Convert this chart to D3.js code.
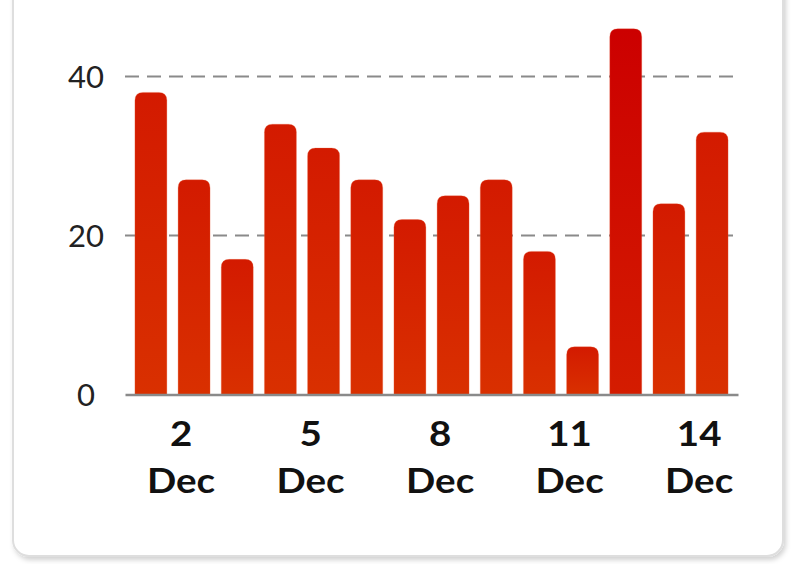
<!DOCTYPE html>
<html>
<head>
<meta charset="utf-8">
<script src="https://cdn.jsdelivr.net/npm/d3@7"></script>
<style>
  html, body { margin: 0; padding: 0; background: #fff; }
  svg { display: block; }
  .yLabel { font-family: Lato, sans-serif; font-size: 31px; fill: #222; }
  .xAxis text { font-family: Lato, sans-serif; font-weight: bold; font-size: 35px; fill: #111; }
</style>
</head>
<body>
<div id="chart"></div>
<script>
// Data
var days = ["1", "2", "3", "4", "5", "6", "7", "8", "9", "10", "11", "12", "13", "14"];
var counts = [38, 27, 17, 34, 31, 27, 22, 25, 27, 18, 6, 46, 24, 33];
var xTicks = ["2", "5", "8", "11", "14"];
var yTicks = [0, 20, 40];
var month = "Dec";

var svgWidth = 800;
var svgHeight = 564;

var svg = d3.select("#chart")
  .append("svg")
  .attr("width", svgWidth)
  .attr("height", svgHeight);

var defs = svg.append("defs");

// card shadow
var shadow = defs.append("filter")
  .attr("id", "cardShadow")
  .attr("x", "-5%").attr("y", "-5%")
  .attr("width", "110%").attr("height", "110%");
shadow.append("feDropShadow")
  .attr("dx", 2).attr("dy", 3)
  .attr("stdDeviation", 2.5)
  .attr("flood-color", "#000")
  .attr("flood-opacity", 0.18);

// bar gradients
var grad = defs.append("linearGradient")
  .attr("id", "barFill")
  .attr("x1", 0).attr("y1", 0).attr("x2", 0).attr("y2", 1);
grad.append("stop").attr("offset", "0%").attr("stop-color", "#d31a00");
grad.append("stop").attr("offset", "100%").attr("stop-color", "#d93000");

var gradMax = defs.append("linearGradient")
  .attr("id", "barFillMax")
  .attr("x1", 0).attr("y1", 0).attr("x2", 0).attr("y2", 1);
gradMax.append("stop").attr("offset", "0%").attr("stop-color", "#cc0000");
gradMax.append("stop").attr("offset", "100%").attr("stop-color", "#d41c00");

// card
svg.append("rect")
  .attr("x", 13)
  .attr("y", -30)
  .attr("width", 770)
  .attr("height", 586)
  .attr("rx", 16)
  .attr("fill", "#fff")
  .attr("stroke", "#dedede")
  .attr("stroke-width", 2)
  .attr("filter", "url(#cardShadow)");

// scales
var xScale = d3.scaleBand()
  .domain(days)
  .range([125, 738])
  .paddingInner(0.26)
  .paddingOuter(0.23);

var yScale = d3.scaleLinear()
  .domain([0, 40])
  .range([394.5, 76.5]);

// dashed grid lines
svg.append("g")
  .selectAll("line")
  .data(yTicks.filter(d => d > 0))
  .enter()
  .append("line")
  .attr("x1", 125)
  .attr("x2", 738)
  .attr("y1", d => yScale(d))
  .attr("y2", d => yScale(d))
  .attr("stroke", "#8a8a8a")
  .attr("stroke-width", 2)
  .attr("stroke-dasharray", "14 8");

// y labels
svg.append("g")
  .selectAll("text")
  .data(yTicks)
  .enter()
  .append("text")
  .attr("class", "yLabel")
  .attr("x", 86)
  .attr("y", d => yScale(d))
  .attr("dy", "0.36em")
  .attr("text-anchor", "middle")
  .text(d => d);

// bars with rounded tops
var maxCount = d3.max(counts);
var r = 8;
function barPath(x, y0, y1, w) {
  var rr = Math.min(r, (y0 - y1));
  return "M" + x + "," + y0 +
    "V" + (y1 + rr) +
    "Q" + x + "," + y1 + " " + (x + rr) + "," + y1 +
    "H" + (x + w - rr) +
    "Q" + (x + w) + "," + y1 + " " + (x + w) + "," + (y1 + rr) +
    "V" + y0 + "Z";
}

svg.append("g")
  .selectAll("path")
  .data(counts)
  .enter()
  .append("path")
  .attr("d", (d, i) => barPath(xScale(days[i]), yScale(0), yScale(d), xScale.bandwidth()))
  .attr("fill", d => d === maxCount ? "url(#barFillMax)" : "url(#barFill)")
  .attr("stroke", "#e8603a")
  .attr("stroke-opacity", 0.35)
  .attr("stroke-width", 0.8);

// x axis
var bottomAxis = d3.axisBottom(xScale)
  .tickValues(xTicks)
  .tickSize(0)
  .tickSizeOuter(0)
  .tickPadding(0);

var xAxisG = svg.append("g")
  .attr("class", "xAxis")
  .attr("transform", "translate(0," + yScale(0) + ")")
  .call(bottomAxis);

xAxisG.select(".domain")
  .attr("stroke", "#8a8a8a")
  .attr("stroke-width", 2.5);

// ticks sit a little left of the bar centres
xAxisG.selectAll(".tick")
  .attr("transform", d => "translate(" + (xScale(d) + 3) + ",0)");

// labels in the picture are a bit wider than plain Lato
xAxisG.selectAll(".tick text").each(function(d) {
  var t = d3.select(this).text("").attr("y", 0).attr("dy", null)
    .attr("transform", "scale(1.1,1)");
  t.append("tspan").attr("x", 0).attr("y", 52).text(d);
  t.append("tspan").attr("x", 0).attr("y", 98.5).text(month);
});
</script>
</body>
</html>
